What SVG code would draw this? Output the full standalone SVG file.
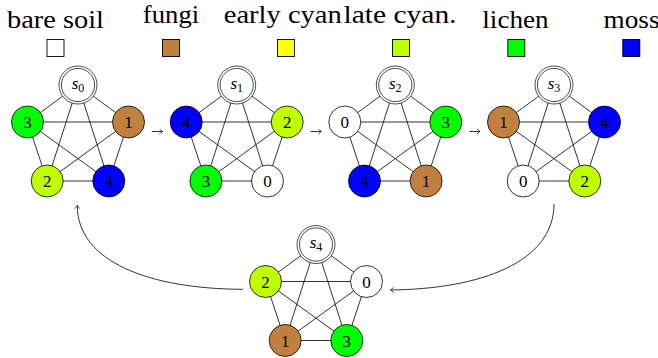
<svg xmlns="http://www.w3.org/2000/svg" width="658" height="358" viewBox="0 0 658 358" font-family="'Liberation Serif', 'DejaVu Serif', serif">
<style>
.lg{font-family:'Liberation Serif','DejaVu Serif',serif;font-size:26px;text-anchor:middle;fill:#000}
.box{stroke:#000;stroke-width:0.9}
.e line{stroke:#000;stroke-width:0.8}
.nd circle{stroke:#000;stroke-width:0.8}
.nd text{font-family:'Liberation Serif','DejaVu Serif',serif;font-size:17px;text-anchor:middle;fill:#000}
.sn circle{fill:#fff;stroke:#000;stroke-width:0.7}
.sn text{font-family:'Liberation Serif','DejaVu Serif',serif;font-size:17px;text-anchor:middle;fill:#000}
.c0{fill:#ffffff}.c1{fill:#bf8040}.c2{fill:#bfff00}.c3{fill:#00ff00}.c4{fill:#0000ff}.cy{fill:#ffff00}
.arr{fill:none;stroke:#000;stroke-width:0.8}
</style>
<defs>
<marker id="to" viewBox="-4 -3 5 6" markerWidth="5" markerHeight="6" refX="0" refY="0" orient="auto" markerUnits="userSpaceOnUse">
<path d="M-3.2,-2.6 Q-1,-0.6 0,0 Q-1,0.6 -3.2,2.6" fill="none" stroke="#000" stroke-width="0.7"/>
</marker>
</defs>
<g id="legend">
<text class="lg" x="55.5" y="28.3" textLength="97" lengthAdjust="spacingAndGlyphs">bare soil</text>
<text class="lg" x="171" y="22.7" textLength="56.3" lengthAdjust="spacingAndGlyphs">fungi</text>
<text class="lg" x="282.8" y="22.7" textLength="118" lengthAdjust="spacingAndGlyphs">early cyan</text>
<text class="lg" x="400" y="22.7" textLength="113" lengthAdjust="spacingAndGlyphs">late cyan.</text>
<text class="lg" x="515.5" y="28.3" textLength="66.4" lengthAdjust="spacingAndGlyphs">lichen</text>
<text class="lg" x="631.5" y="28.3" textLength="56" lengthAdjust="spacingAndGlyphs">moss</text>
<rect class="box c0" x="47" y="39.5" width="17" height="17"/>
<rect class="box c1" x="162.5" y="39.5" width="17" height="17"/>
<rect class="box cy" x="277.5" y="39.5" width="17" height="17"/>
<rect class="box c2" x="392.5" y="39.5" width="17" height="17"/>
<rect class="box c3" x="507.8" y="39.5" width="17" height="17"/>
<rect class="box c4" x="622.8" y="39.5" width="17" height="17"/>
</g>
<g id="connectors">
<g class="e" transform="translate(78,122)">
<line x1="0" y1="-37" x2="-50.5" y2="0"/><line x1="0" y1="-37" x2="50.5" y2="0"/><line x1="0" y1="-37" x2="-30.8" y2="59"/><line x1="0" y1="-37" x2="30.8" y2="59"/><line x1="-50.5" y1="0" x2="50.5" y2="0"/><line x1="-50.5" y1="0" x2="-30.8" y2="59"/><line x1="-50.5" y1="0" x2="30.8" y2="59"/><line x1="50.5" y1="0" x2="-30.8" y2="59"/><line x1="50.5" y1="0" x2="30.8" y2="59"/><line x1="-30.8" y1="59" x2="30.8" y2="59"/>
</g>
<g class="e" transform="translate(236.7,122)">
<line x1="0" y1="-37" x2="-50.5" y2="0"/><line x1="0" y1="-37" x2="50.5" y2="0"/><line x1="0" y1="-37" x2="-30.8" y2="59"/><line x1="0" y1="-37" x2="30.8" y2="59"/><line x1="-50.5" y1="0" x2="50.5" y2="0"/><line x1="-50.5" y1="0" x2="-30.8" y2="59"/><line x1="-50.5" y1="0" x2="30.8" y2="59"/><line x1="50.5" y1="0" x2="-30.8" y2="59"/><line x1="50.5" y1="0" x2="30.8" y2="59"/><line x1="-30.8" y1="59" x2="30.8" y2="59"/>
</g>
<g class="e" transform="translate(395.3,122)">
<line x1="0" y1="-37" x2="-50.5" y2="0"/><line x1="0" y1="-37" x2="50.5" y2="0"/><line x1="0" y1="-37" x2="-30.8" y2="59"/><line x1="0" y1="-37" x2="30.8" y2="59"/><line x1="-50.5" y1="0" x2="50.5" y2="0"/><line x1="-50.5" y1="0" x2="-30.8" y2="59"/><line x1="-50.5" y1="0" x2="30.8" y2="59"/><line x1="50.5" y1="0" x2="-30.8" y2="59"/><line x1="50.5" y1="0" x2="30.8" y2="59"/><line x1="-30.8" y1="59" x2="30.8" y2="59"/>
</g>
<g class="e" transform="translate(554,122)">
<line x1="0" y1="-37" x2="-50.5" y2="0"/><line x1="0" y1="-37" x2="50.5" y2="0"/><line x1="0" y1="-37" x2="-30.8" y2="59"/><line x1="0" y1="-37" x2="30.8" y2="59"/><line x1="-50.5" y1="0" x2="50.5" y2="0"/><line x1="-50.5" y1="0" x2="-30.8" y2="59"/><line x1="-50.5" y1="0" x2="30.8" y2="59"/><line x1="50.5" y1="0" x2="-30.8" y2="59"/><line x1="50.5" y1="0" x2="30.8" y2="59"/><line x1="-30.8" y1="59" x2="30.8" y2="59"/>
</g>
<g class="e" transform="translate(316,281.5)">
<line x1="0" y1="-37" x2="-50.5" y2="0"/><line x1="0" y1="-37" x2="50.5" y2="0"/><line x1="0" y1="-37" x2="-30.8" y2="59"/><line x1="0" y1="-37" x2="30.8" y2="59"/><line x1="-50.5" y1="0" x2="50.5" y2="0"/><line x1="-50.5" y1="0" x2="-30.8" y2="59"/><line x1="-50.5" y1="0" x2="30.8" y2="59"/><line x1="50.5" y1="0" x2="-30.8" y2="59"/><line x1="50.5" y1="0" x2="30.8" y2="59"/><line x1="-30.8" y1="59" x2="30.8" y2="59"/>
</g>
<path class="arr" d="M151.8,131.5 H162.6" marker-end="url(#to)"/>
<path class="arr" d="M310.5,131.5 H321.3" marker-end="url(#to)"/>
<path class="arr" d="M469.2,131.5 H480" marker-end="url(#to)"/>
<path class="arr" d="M243,289.3 C150,289 77.3,262 77.3,205.5" marker-end="url(#to)"/>
<path class="arr" d="M554,204 C554,262 481,289 390.5,290" marker-end="url(#to)"/>
</g>
<g id="g0-s" class="sn" transform="translate(78,85)"><circle r="19"/><circle r="16.6"/><text y="3.5"><tspan font-style="italic">s</tspan><tspan font-size="12" dy="3">0</tspan></text></g>
<g id="g0-n3" class="nd" transform="translate(27.5,122)"><circle r="16" class="c3"/><text y="6">3</text></g>
<g id="g0-n1" class="nd" transform="translate(128.5,122)"><circle r="16" class="c1"/><text y="6">1</text></g>
<g id="g0-n2" class="nd" transform="translate(47.2,181)"><circle r="16" class="c2"/><text y="6">2</text></g>
<g id="g0-n4" class="nd" transform="translate(108.8,181)"><circle r="16" class="c4"/><text y="6">4</text></g>
<g id="g1-s" class="sn" transform="translate(236.7,85)"><circle r="19"/><circle r="16.6"/><text y="3.5"><tspan font-style="italic">s</tspan><tspan font-size="12" dy="3">1</tspan></text></g>
<g id="g1-n4" class="nd" transform="translate(186.2,122)"><circle r="16" class="c4"/><text y="6">4</text></g>
<g id="g1-n2" class="nd" transform="translate(287.2,122)"><circle r="16" class="c2"/><text y="6">2</text></g>
<g id="g1-n3" class="nd" transform="translate(205.9,181)"><circle r="16" class="c3"/><text y="6">3</text></g>
<g id="g1-n0" class="nd" transform="translate(267.5,181)"><circle r="16" class="c0"/><text y="6">0</text></g>
<g id="g2-s" class="sn" transform="translate(395.3,85)"><circle r="19"/><circle r="16.6"/><text y="3.5"><tspan font-style="italic">s</tspan><tspan font-size="12" dy="3">2</tspan></text></g>
<g id="g2-n0" class="nd" transform="translate(344.8,122)"><circle r="16" class="c0"/><text y="6">0</text></g>
<g id="g2-n3" class="nd" transform="translate(445.8,122)"><circle r="16" class="c3"/><text y="6">3</text></g>
<g id="g2-n4" class="nd" transform="translate(364.5,181)"><circle r="16" class="c4"/><text y="6">4</text></g>
<g id="g2-n1" class="nd" transform="translate(426.1,181)"><circle r="16" class="c1"/><text y="6">1</text></g>
<g id="g3-s" class="sn" transform="translate(554,85)"><circle r="19"/><circle r="16.6"/><text y="3.5"><tspan font-style="italic">s</tspan><tspan font-size="12" dy="3">3</tspan></text></g>
<g id="g3-n1" class="nd" transform="translate(503.5,122)"><circle r="16" class="c1"/><text y="6">1</text></g>
<g id="g3-n4" class="nd" transform="translate(604.5,122)"><circle r="16" class="c4"/><text y="6">4</text></g>
<g id="g3-n0" class="nd" transform="translate(523.2,181)"><circle r="16" class="c0"/><text y="6">0</text></g>
<g id="g3-n2" class="nd" transform="translate(584.8,181)"><circle r="16" class="c2"/><text y="6">2</text></g>
<g id="g4-s" class="sn" transform="translate(316,244.5)"><circle r="19"/><circle r="16.6"/><text y="3.5"><tspan font-style="italic">s</tspan><tspan font-size="12" dy="3">4</tspan></text></g>
<g id="g4-n2" class="nd" transform="translate(265.5,281.5)"><circle r="16" class="c2"/><text y="6">2</text></g>
<g id="g4-n0" class="nd" transform="translate(366.5,281.5)"><circle r="16" class="c0"/><text y="6">0</text></g>
<g id="g4-n1" class="nd" transform="translate(285.2,340.5)"><circle r="16" class="c1"/><text y="6">1</text></g>
<g id="g4-n3" class="nd" transform="translate(346.8,340.5)"><circle r="16" class="c3"/><text y="6">3</text></g>
</svg>
